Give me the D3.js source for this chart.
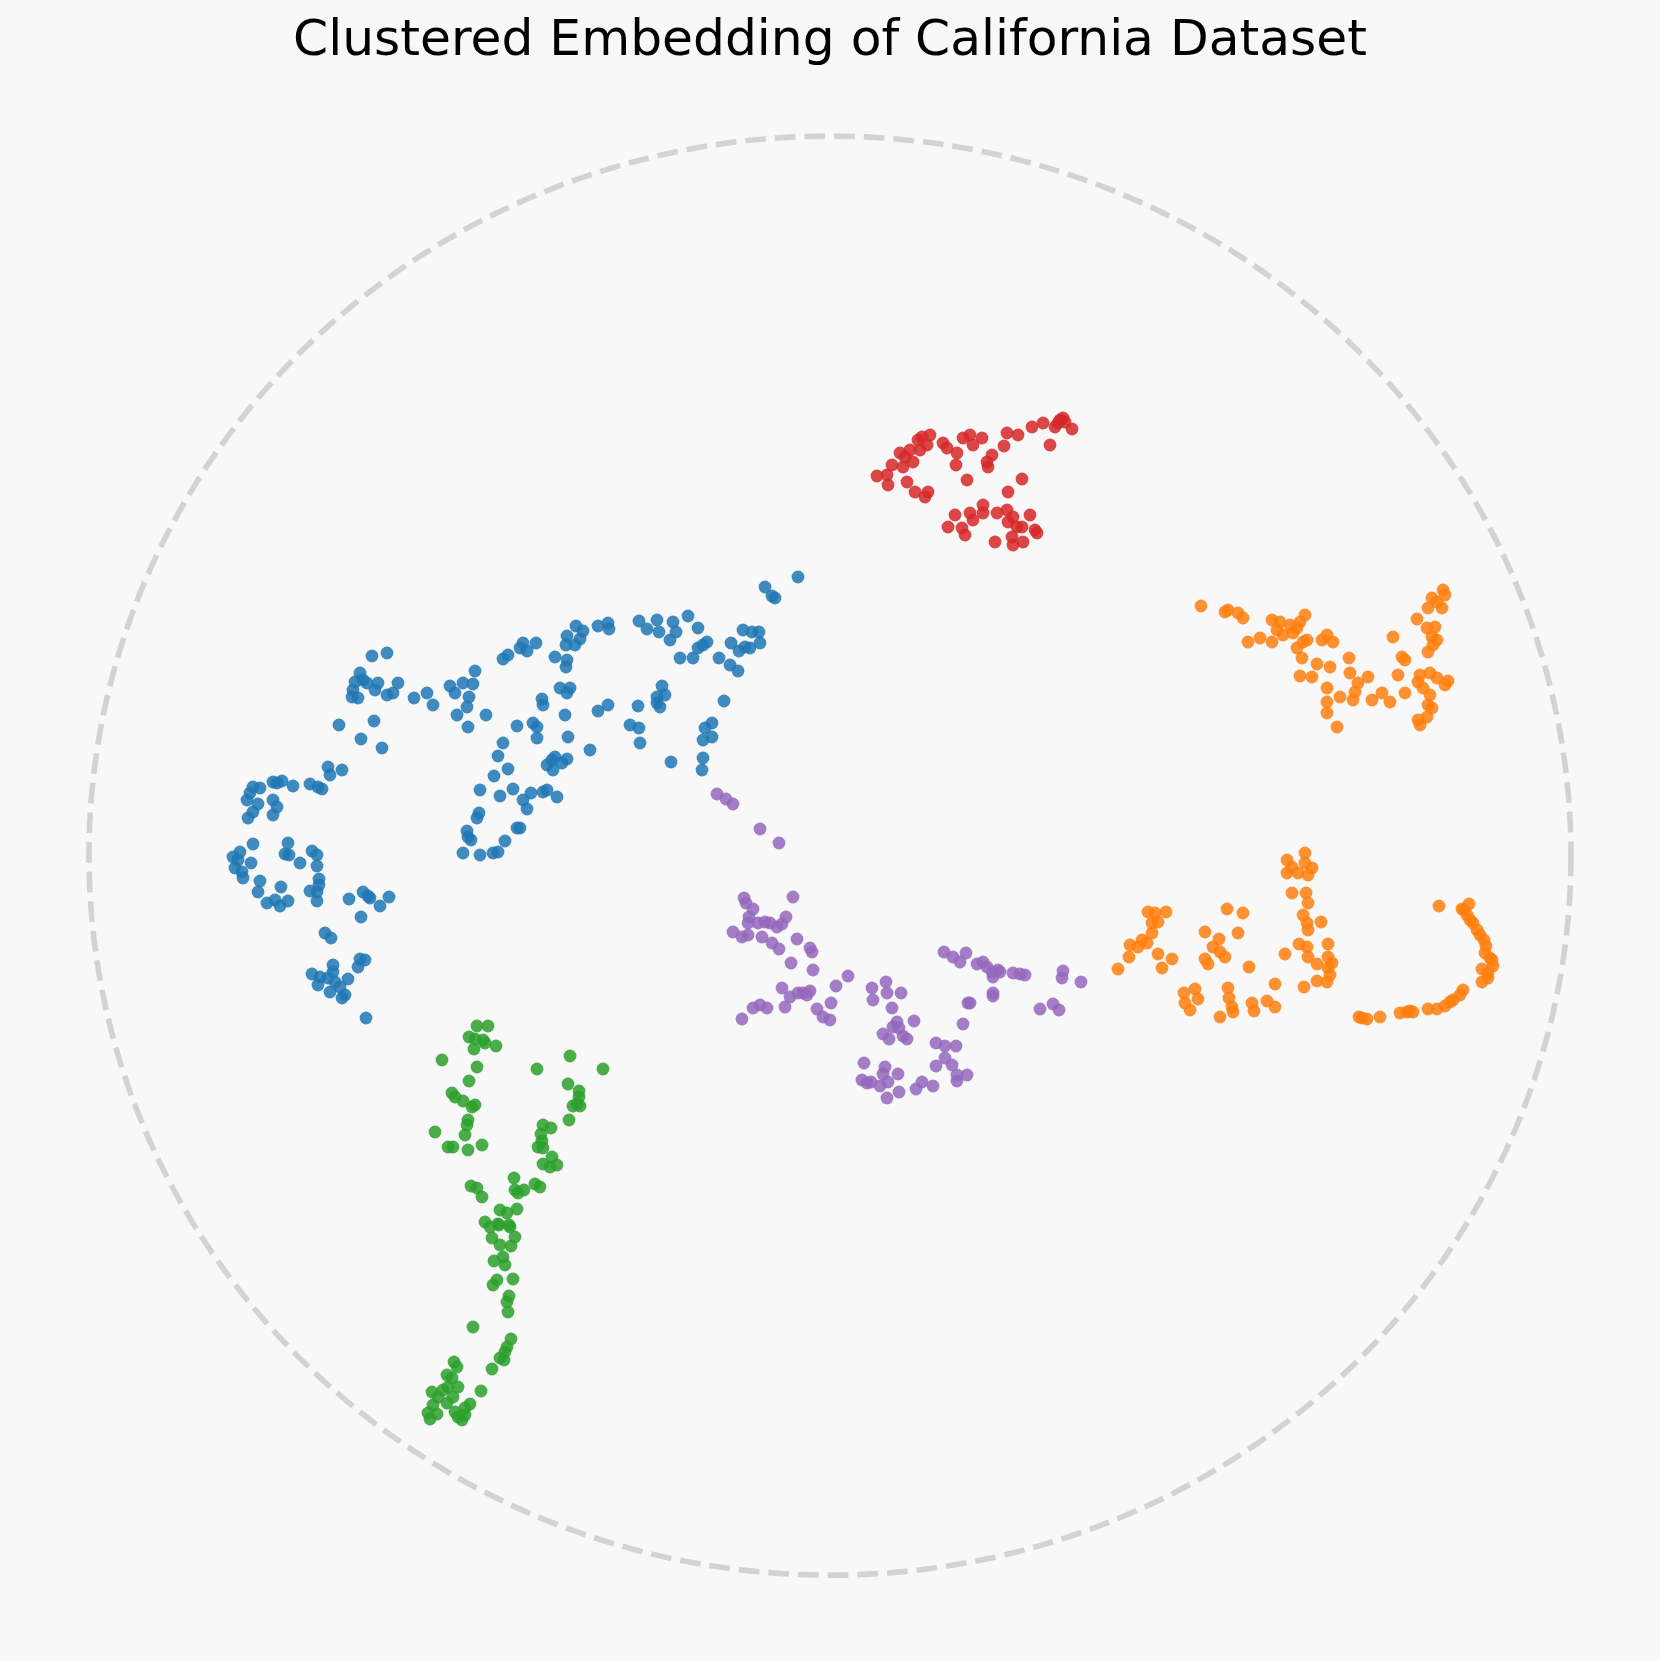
<!DOCTYPE html>
<html>
<head>
<meta charset="utf-8">
<script src="https://cdn.jsdelivr.net/npm/d3@7"></script>
<style>
  html, body { margin: 0; padding: 0; background: #f8f8f8; }
  svg { display: block; }
</style>
</head>
<body>
<div id="chart"></div>
<script>
// Embedding coordinates (dim1, dim2) per cluster
const cluster0 = [[37.2,65.6],[38.7,65.3],[36.0,67.3],[35.5,68.2],[36.3,68.0],[36.7,68.3],[35.3,69.0],[35.2,69.7],[35.8,69.8],[37.5,69.0],[37.8,68.3],[38.7,69.5],[39.3,69.3],[39.8,68.3],[41.4,69.8],[42.7,69.3],[43.3,70.5],[33.9,72.5],[37.4,72.1],[36.1,73.9],[38.2,74.8],
[32.8,76.7],[34.2,77.0],[33.0,77.5],[31.0,78.4],[31.8,78.7],[32.2,78.9],[29.3,78.6],[27.3,78.2],[28.2,78.1],[27.7,78.3],[25.3,78.7],[26.0,78.8],[25.0,79.3],[24.7,80.0],[25.8,80.4],[25.3,81.2],[24.8,81.8],[27.3,80.0],[27.7,80.7],[27.3,81.5],
[25.3,84.4],[24.0,85.2],[23.3,85.7],[23.8,86.0],[25.1,86.3],[23.5,86.8],[24.2,87.2],[24.3,87.8],[28.8,84.3],[28.5,85.4],[28.9,85.5],[30.0,86.3],[31.2,85.1],[31.7,85.5],[31.7,86.6],[26.0,88.1],[25.8,89.2],[28.1,88.7],[26.7,90.3],[27.5,90.0],[28.0,90.6],[28.8,90.1],[31.9,87.9],[31.9,88.5],[31.0,89.1],[31.7,89.2],[31.7,90.1],[34.9,89.9],[36.3,89.2],[36.8,89.6],[37.0,89.8],[38.9,89.7],[38.0,90.6],[36.1,91.7],[32.5,93.3],[33.1,93.8],
[31.2,97.4],[32.0,97.7],[31.8,98.5],[33.3,96.5],[33.3,97.2],[32.8,97.8],[33.5,98.2],[33.0,99.2],[34.0,98.7],[34.8,97.9],[34.5,99.5],[34.2,99.8],[35.8,96.7],[36.0,95.9],[36.5,96.0],[36.6,101.8],
[79.8,57.7],[76.5,58.7],[77.2,59.6],[77.5,59.8],[68.8,61.6],[69.8,62.8],[67.3,62.2],[67.6,63.2],[67.0,64.0],[65.7,62.0],[65.9,63.2],[64.7,62.9],[63.9,62.1],[60.8,62.3],[60.9,62.9],[59.8,62.6],[58.3,63.1],[57.6,62.6],[58.0,63.9],[56.7,63.6],[56.6,64.5],[57.5,64.5],[53.6,64.3],[52.3,64.3],[52.0,64.8],[52.7,65.1],[50.8,65.5],[50.3,65.9],[55.5,65.7],[56.7,66.0],[56.6,66.7],[68.0,65.8],[69.3,65.8],[69.8,64.8],[70.7,64.2],[70.3,64.5],[71.9,65.8],[73.1,64.3],[74.3,63.0],[75.2,63.2],[75.9,63.2],[76.0,64.3],[75.0,64.8],[73.9,65.1],[74.5,64.7],[73.0,66.5],[73.8,67.1],[72.4,70.1],[66.2,68.6],[66.5,69.5],[65.7,69.7],[65.7,70.3],[66.0,70.7],[63.8,70.6],[63.0,72.5],[63.9,72.8],[64.0,74.3],[67.1,76.2],[71.2,72.3],[70.5,72.8],[71.2,73.7],[70.3,74.0],[70.3,75.8],[70.2,77.0],[60.8,70.5],[59.8,71.1],[59.0,75.0],[56.8,73.7],[56.5,71.5],[56.0,68.8],[57.0,68.8],[56.7,69.3],[54.2,69.9],[54.3,70.5],[53.3,72.3],[53.7,72.7],[53.7,73.8],[51.7,72.6],[50.3,74.3],[49.8,75.6],[50.8,76.9],[49.4,77.6],[48.0,79.0],[50.0,79.6],[51.3,78.9],[53.1,79.3],[52.3,80.0],[52.7,80.9],[54.3,79.2],[54.7,79.0],[55.7,79.7],[55.2,76.0],[55.5,75.7],[55.3,77.0],[56.2,76.3],[56.7,75.9],[54.7,76.5],[47.9,81.3],[47.7,81.8],[46.7,83.1],[46.8,83.7],[47.1,84.0],[46.3,85.3],[48.0,85.5],[49.3,85.3],[49.8,85.2],[50.5,84.1],[51.7,82.8],[52.0,82.8],[47.5,67.1],[45.0,68.6],[45.5,69.3],[46.3,68.3],[47.3,68.4],[46.9,69.7],[46.7,70.7],[45.7,71.5],[46.8,72.7],[48.6,71.5]];

const cluster1 = [[120.1,60.6],[122.5,61.2],[122.8,61.0],[123.8,61.3],[124.3,61.8],[124.8,64.2],[126.0,63.8],[127.2,64.2],[127.2,62.0],[128.0,62.2],[127.7,63.0],[128.3,63.5],[129.0,62.5],[129.7,62.8],[130.0,62.2],[130.5,61.5],[130.3,64.2],[129.7,64.8],[130.2,65.8],[130.7,64.0],[129.3,63.3],[132.2,64.0],[132.7,63.5],[133.3,64.2],[131.7,66.4],[133.0,66.7],[130.0,67.6],[131.2,67.7],[132.7,68.8],[132.7,70.2],[132.7,71.3],[133.7,72.7],[134.0,69.7],[134.9,65.8],[135.0,67.3],[135.8,68.3],[135.5,69.2],[135.3,70.0],[136.8,67.7],[137.2,70.0],[138.2,69.3],[139.0,70.2],[139.8,67.5],[140.5,69.3],[140.2,65.7],[140.5,66.0],[139.3,63.7],[141.7,61.9],[141.8,68.2],[142.0,67.5],[142.3,68.8],[143.0,67.3],[143.7,67.8],[144.8,68.1],[143.0,69.5],[142.8,70.5],[143.2,70.8],[141.8,72.0],[142.0,72.5],[142.7,71.7],[144.5,68.5],[142.7,62.8],[143.5,62.7],[143.2,63.7],[143.7,64.0],[143.3,64.5],[142.8,65.2],[143.2,59.8],[142.8,60.8],[143.7,60.2],[144.3,59.0],[144.5,59.5],[144.2,60.8],
[111.8,96.9],[112.9,95.7],[113.0,94.5],[113.8,94.7],[114.2,94.0],[114.7,94.3],[115.2,93.3],[115.2,92.3],[114.8,91.2],[115.5,91.3],[115.8,92.2],[116.6,91.2],[115.8,95.4],[116.2,96.8],[117.2,95.9],[120.5,93.2],[121.9,93.9],[121.3,94.7],[122.0,95.2],[122.5,95.7],[120.5,95.9],[120.8,96.4],[122.7,90.9],[124.3,91.3],[123.8,93.3],[124.9,96.7],[118.4,99.3],[119.5,98.9],[119.8,99.9],[118.5,100.3],[119.0,101.0],[122.8,98.8],[122.9,99.8],[123.2,100.7],[122.0,101.7],[123.3,101.2],[125.2,100.3],[125.4,101.1],[126.7,100.1],[127.5,98.4],[127.5,100.7],[128.5,95.4],[128.7,86.0],[129.2,86.7],[128.7,87.3],[130.5,85.3],[130.5,86.3],[131.2,86.8],[129.8,87.3],[130.8,87.5],[129.2,89.3],[130.6,89.3],[130.8,90.3],[130.3,91.5],[130.7,92.3],[130.8,93.0],[132.1,92.2],[129.9,94.4],[130.7,94.7],[130.8,95.7],[131.7,96.4],[132.8,94.4],[132.8,95.7],[132.8,96.8],[131.7,98.1],[130.4,98.7],[132.7,98.2],[133.2,96.3],[133.0,97.5],
[143.9,90.6],[146.2,90.9],[146.9,90.4],[146.7,91.5],[147.3,92.3],[147.7,93.0],[148.0,93.5],[148.4,94.0],[148.5,95.3],[149.0,95.8],[149.3,96.6],[148.2,96.9],[148.8,97.3],[148.8,97.8],[148.2,98.2],[146.3,99.0],[146.0,99.5],[145.0,100.2],[144.5,100.6],[143.7,100.9],[142.8,100.9],[141.3,101.2],[140.7,101.2],[140.0,101.3],[138.0,101.7],[136.7,101.9],[135.9,101.7],[146.4,91.0],[147.0,92.0],[148.6,94.6],[149.2,96.0],[145.3,100.0],[141.0,101.1],[136.2,101.8]];

const cluster2 = [[47.7,102.6],[48.8,102.6],[46.9,103.7],[47.5,103.9],[48.3,104.0],[48.5,104.3],[47.4,104.9],[49.6,104.6],[44.2,106.0],[47.7,106.7],[46.9,108.1],[45.2,109.3],[45.5,109.7],[46.3,110.1],[47.2,110.7],[47.5,110.5],[46.8,112.0],[46.7,112.5],[46.5,113.5],[43.5,113.2],[44.8,114.7],[45.3,114.7],[46.8,115.0],[48.2,114.5],[53.7,106.9],[57.0,105.6],[60.3,106.9],[56.8,108.4],[57.9,109.1],[57.9,109.7],[57.7,110.4],[57.3,110.6],[58.0,110.6],[56.9,112.0],[54.3,112.5],[55.1,112.8],[54.1,113.4],[54.2,114.1],[53.8,114.7],[54.3,114.8],[55.2,115.7],[54.3,116.4],[55.0,116.7],[55.7,116.5],[51.4,117.8],[51.5,119.0],[51.8,119.3],[52.4,119.0],[53.5,118.4],[54.0,118.7],[47.1,118.6],[47.7,118.8],[48.2,119.7],[50.0,121.0],[50.7,121.3],[51.7,120.9],[48.5,122.2],[49.8,122.4],[50.9,122.5],
[49.0,122.7],[49.9,122.5],[51.0,122.7],[49.2,123.8],[50.0,124.5],[51.1,124.6],[51.5,123.7],[50.3,125.7],[49.4,126.1],[50.5,126.5],[49.7,128.0],[49.3,128.5],[51.3,127.9],[50.9,129.6],[50.7,130.2],[50.8,131.2],[47.3,132.7],[51.1,133.9],[50.7,134.7],[50.5,135.2],[50.0,135.8],[50.4,136.0],[49.2,136.9],[48.1,139.1],[45.4,136.2],[45.7,136.7],[44.7,137.5],[45.2,137.8],[44.3,139.0],[44.8,138.7],[45.8,138.7],[43.2,139.2],[43.8,139.7],[45.3,139.7],[44.7,140.3],[43.3,140.5],[42.8,141.3],[43.7,141.4],[43.0,141.9],[45.5,141.2],[45.8,141.7],[46.5,141.5],[46.2,142.0],[47.0,140.4],[46.5,140.8]];

const cluster3 = [[87.7,47.6],[88.7,47.5],[88.8,48.5],[89.2,46.5],[90.3,46.7],[90.7,48.2],[90.5,45.7],[91.0,45.0],[91.3,46.2],[91.5,49.2],[92.5,49.7],[92.8,49.2],[92.2,43.7],[93.0,43.5],[92.7,44.5],[94.3,44.3],[94.7,44.8],[95.7,45.3],[95.6,46.5],[96.7,48.0],[96.3,43.8],[97.0,43.5],[97.3,44.5],[98.2,43.8],[98.7,46.2],[99.2,45.5],[98.8,46.7],[100.7,43.3],[100.4,44.6],[101.8,43.5],[103.2,42.7],[104.3,42.3],[105.5,42.7],[106.0,42.0],[106.5,42.2],[107.2,42.9],[105.0,44.5],[102.2,47.9],[100.8,49.2],[90.0,45.3],[91.8,44.0],[92.0,45.0],[106.3,41.8],[105.8,42.3],
[94.8,52.7],[95.5,51.5],[96.2,52.8],[96.5,53.5],[97.0,51.3],[97.3,52.0],[98.3,50.5],[98.3,51.3],[99.5,54.2],[99.7,51.3],[100.7,51.0],[100.8,52.2],[101.3,51.7],[101.7,52.7],[101.2,53.7],[101.3,54.5],[102.3,54.2],[102.2,52.7],[103.0,51.5],[103.5,53.0],[103.7,53.3]];

const cluster4 = [[71.7,79.4],[72.6,79.9],[73.3,80.4],[76.0,82.9],[77.9,84.3],[79.3,89.7],[74.4,89.8],[74.6,90.3],[75.3,90.9],[74.9,91.7],[74.8,92.3],[75.8,92.3],[76.5,92.2],[77.0,92.3],[77.7,92.7],[78.2,92.4],[78.6,91.7],[73.3,93.2],[74.2,93.7],[74.8,93.5],[76.2,93.7],[77.2,94.3],[77.9,94.9],[79.7,93.9],[81.0,94.8],[81.2,95.2],[79.1,96.3],[81.3,97.0],[84.8,97.6],[83.6,98.6],[78.2,98.8],[79.0,99.7],[79.8,99.3],[80.3,99.3],[81.0,99.1],[80.7,99.5],[75.3,100.8],[76.0,100.5],[76.7,100.8],[78.5,100.7],[74.2,101.9],[81.7,100.9],[82.3,101.7],[83.0,102.0],[83.1,100.3],[87.2,98.8],[87.3,100.0],[88.6,98.2],[88.7,99.3],[90.1,99.3],[89.2,100.8],[89.7,102.2],[89.3,102.7],[89.9,102.8],[88.3,103.4],[88.9,103.9],[90.7,103.9],[91.4,102.1],[90.3,103.6],[86.4,106.3],[86.2,108.0],[86.7,108.3],[87.1,108.2],[88.0,108.6],[88.5,106.7],[88.3,107.4],[88.8,108.2],[89.8,107.4],[89.9,109.2],[88.7,109.8],[91.6,108.9],[92.2,108.2],[93.3,108.6],[93.6,104.3],[94.5,104.6],[95.6,104.6],[94.5,105.8],[95.2,106.5],[93.6,106.6],[95.7,107.5],[95.7,108.1],[96.7,107.5],[96.3,102.4],[96.8,100.3],[97.0,100.3],[99.3,99.3],[99.3,99.6],[94.4,95.2],[95.3,95.7],[96.0,96.2],[96.6,95.3],[97.7,96.4],[98.3,96.2],[98.7,96.7],[99.2,97.2],[99.3,97.7],[99.8,97.0],[100.0,97.2],[101.3,97.3],[102.0,97.4],[102.5,97.5],[106.3,97.1],[106.2,97.8],[108.1,98.2],[104.0,100.9],[105.3,100.4],[105.9,101.0]];

const clusterNames = ["Cluster 0", "Cluster 1", "Cluster 2", "Cluster 3", "Cluster 4"];
const clusterColors = ["#1f77b4", "#ff7f0e", "#2ca02c", "#d62728", "#9467bd"];
const clusters = [cluster0, cluster1, cluster2, cluster3, cluster4];

// Boundary ellipse of the embedding (center and radii, embedding units)
const boundaryCenter = [83.0, 85.56];
const boundaryRadius = [74.1, 71.95];

const titleText = "Clustered Embedding of California Dataset";

const W = 1660, H = 1661;
const svg = d3.select("#chart").append("svg")
  .attr("width", W).attr("height", H)
  .style("background", "#f8f8f8");

// Embedding units -> pixels
const x = d3.scaleLinear().domain([0, 166]).range([0, 1660]);
const y = d3.scaleLinear().domain([0, 166.1]).range([0, 1661]);

// dashed boundary ellipse
svg.append("ellipse")
  .attr("cx", x(boundaryCenter[0]))
  .attr("cy", y(boundaryCenter[1]))
  .attr("rx", x(boundaryRadius[0]) - x(0))
  .attr("ry", y(boundaryRadius[1]) - y(0))
  .attr("fill", "none")
  .attr("stroke", "#d3d3d3")
  .attr("stroke-width", 5.6)
  .attr("stroke-dasharray", "20.7,9");

const data = [];
clusters.forEach((pts, ci) => pts.forEach(p => data.push({c: ci, x: p[0], y: p[1]})));

svg.append("g").selectAll("circle")
  .data(data)
  .join("circle")
  .attr("cx", d => x(d.x))
  .attr("cy", d => y(d.y))
  .attr("r", 6.4)
  .attr("fill", d => clusterColors[d.c])
  .attr("fill-opacity", 0.85);

const title = svg.append("text")
  .attr("x", 830)
  .attr("y", 55)
  .attr("text-anchor", "middle")
  .attr("font-family", "DejaVu Sans, sans-serif")
  .attr("font-size", 46)
  .attr("fill", "#000")
  .text(titleText);
const len = title.node().getComputedTextLength();
title.attr("font-size", 46 * 1074 / len);
</script>
</body>
</html>
